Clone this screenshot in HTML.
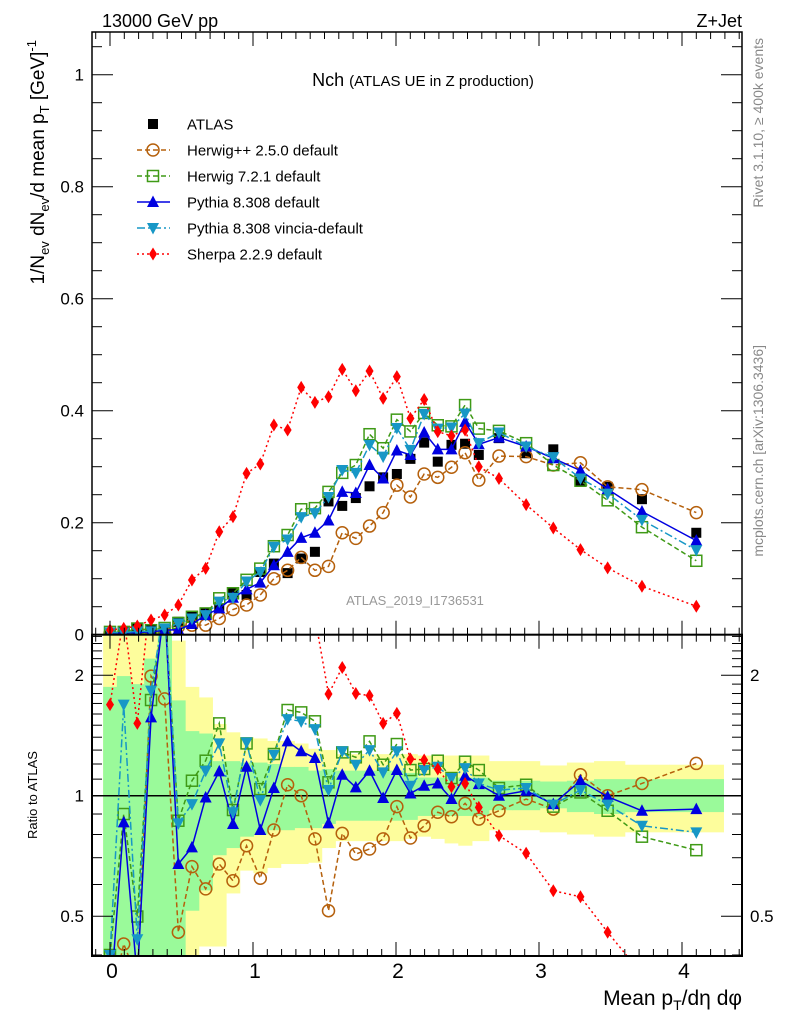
<!DOCTYPE html>
<html><head><meta charset="utf-8"><style>
html,body{margin:0;padding:0;background:#fff}
svg{display:block;font-family:"Liberation Sans",sans-serif}
</style></head><body>
<svg id="chart" width="786" height="1024" viewBox="0 0 786 1024" xmlns="http://www.w3.org/2000/svg">
<defs>
<clipPath id="clipMain"><rect x="92" y="32" width="650" height="603"/></clipPath>
<clipPath id="clipRatio"><rect x="92" y="635" width="650" height="321"/></clipPath>
</defs>
<g id="bands" clip-path="url(#clipRatio)"></g>
<g id="ratioSeries" clip-path="url(#clipRatio)"></g>
<g id="mainSeries" clip-path="url(#clipMain)"></g>
<g id="axes"></g>
<text x="102" y="27" font-size="18">13000 GeV pp</text>
<text x="742" y="27" font-size="18" text-anchor="end">Z+Jet</text>
<text x="423" y="86" text-anchor="middle" font-size="18">Nch <tspan font-size="15">(ATLAS UE in Z production)</tspan></text>
<text x="415" y="605" text-anchor="middle" font-size="13" fill="#999">ATLAS_2019_I1736531</text>
<text transform="translate(44,40) rotate(-90)" text-anchor="end" font-size="19">1/N<tspan font-size="13" dy="5">ev</tspan><tspan dy="-5"> dN</tspan><tspan font-size="13" dy="5">ev</tspan><tspan dy="-5">/d mean p</tspan><tspan font-size="13" dy="5">T</tspan><tspan dy="-5"> [GeV]</tspan><tspan font-size="13" dy="-8">-1</tspan></text>
<text transform="translate(37,795) rotate(-90)" text-anchor="middle" font-size="13">Ratio to ATLAS</text>
<text x="742" y="1005" text-anchor="end" font-size="21">Mean p<tspan font-size="14" dy="5">T</tspan><tspan dy="-5">/dη dφ</tspan></text>
<text transform="translate(763,38) rotate(-90)" text-anchor="end" font-size="14" fill="#888">Rivet 3.1.10, ≥ 400k events</text>
<text transform="translate(763,345) rotate(-90)" text-anchor="end" font-size="14" fill="#888">mcplots.cern.ch [arXiv:1306.3436]</text>
<g id="legend"></g>
</svg>
<script>
const xs = [0,0.096,0.191,0.287,0.382,0.478,0.573,0.669,0.764,0.860,0.955,1.051,1.146,1.242,1.337,1.433,1.528,1.624,1.719,1.815,1.910,2.006,2.101,2.197,2.292,2.388,2.483,2.579,2.72,2.91,3.10,3.29,3.48,3.72,4.10];
const atlas = [0.004,0.005,0.011,0.008,0.011,0.023,0.032,0.038,0.047,0.075,0.071,0.112,0.127,0.110,0.136,0.148,0.238,0.230,0.244,0.265,0.281,0.287,0.314,0.343,0.309,0.339,0.341,0.321,0.351,0.324,0.331,0.273,0.264,0.242,0.182];
const herwigpp = [0.002,0.003,0.004,0.003,0.003,0.014,0.017,0.017,0.029,0.045,0.053,0.071,0.100,0.115,0.138,0.115,0.122,0.182,0.172,0.194,0.218,0.267,0.246,0.287,0.281,0.299,0.325,0.276,0.319,0.318,0.303,0.307,0.264,0.259,0.218];
const herwig7 = [0.005,0.005,0.011,0.008,0.012,0.021,0.032,0.038,0.065,0.074,0.098,0.118,0.158,0.178,0.224,0.226,0.255,0.289,0.303,0.358,0.333,0.384,0.363,0.396,0.374,0.372,0.410,0.368,0.364,0.342,0.303,0.275,0.240,0.192,0.132];
const pythia = [0.003,0.003,0.004,0.005,0.008,0.009,0.019,0.035,0.047,0.066,0.081,0.093,0.124,0.148,0.173,0.182,0.204,0.255,0.253,0.303,0.279,0.329,0.321,0.361,0.331,0.331,0.380,0.340,0.352,0.336,0.315,0.293,0.260,0.220,0.168];
const vincia = [0.004,0.004,0.006,0.006,0.011,0.020,0.029,0.035,0.059,0.066,0.095,0.112,0.157,0.170,0.210,0.217,0.246,0.294,0.289,0.339,0.318,0.369,0.330,0.394,0.368,0.370,0.395,0.342,0.361,0.336,0.317,0.279,0.252,0.205,0.151];
const sherpa = [0.0084,0.0114,0.0155,0.0262,0.0351,0.0530,0.0977,0.1185,0.1839,0.2107,0.2881,0.3048,0.3745,0.3655,0.4417,0.4149,0.425,0.4739,0.4357,0.4709,0.4220,0.4608,0.3864,0.420,0.3626,0.355,0.3655,0.2999,0.279,0.2322,0.1906,0.1520,0.1193,0.0865,0.0508];
const rHerwigpp = [0.3,0.426,0.35,1.99,1.745,0.456,0.665,0.585,0.675,0.613,0.75,0.622,0.821,1.065,1.0,0.78,0.516,0.805,0.715,0.736,0.78,0.939,0.784,0.841,0.909,0.886,0.957,0.874,0.917,0.981,0.926,1.128,1.0,1.073,1.204];
const rHerwig7 = [0.4,0.90,0.499,1.734,3.0,0.866,1.09,1.223,1.516,0.921,1.351,1.039,1.271,1.637,1.615,1.534,1.08,1.283,1.247,1.367,1.195,1.346,1.159,1.166,1.223,1.107,1.216,1.159,1.045,1.065,0.939,1.019,0.917,0.79,0.731];
const rPythia = [0.3,0.858,0.35,1.569,3.0,0.675,0.743,0.99,1.15,0.85,1.181,0.821,1.045,1.367,1.291,1.242,0.853,1.128,1.049,1.154,0.987,1.159,1.013,1.059,1.073,0.981,1.122,1.069,1.0,1.029,0.953,1.09,0.994,0.917,0.926];
const rVincia = [0.4,1.688,0.438,1.83,3.0,0.853,0.953,1.154,1.351,0.909,1.359,0.975,1.266,1.554,1.534,1.467,1.033,1.291,1.195,1.30,1.144,1.291,1.059,1.159,1.181,1.107,1.172,1.073,1.033,1.045,0.95,1.033,0.95,0.841,0.81];
const rSherpa = [1.688,2.8,1.516,3.3,3.2,2.9,3.0,3.1,3.9,2.8,4.0,2.7,2.9,3.3,3.2,2.8,1.795,2.09,1.80,1.778,1.516,1.606,1.235,1.228,1.166,1.053,1.073,0.935,0.795,0.718,0.579,0.559,0.456,0.358,0.28];
const yellowHi = [3,3,3,3,3,2.44,1.87,1.76,1.51,1.44,1.40,1.39,1.37,1.37,1.35,1.31,1.30,1.27,1.27,1.27,1.27,1.27,1.27,1.26,1.26,1.26,1.26,1.26,1.22,1.22,1.19,1.21,1.22,1.195,1.195];
const yellowLo = [0.3,0.3,0.3,0.3,0.3,0.3,0.3,0.42,0.42,0.57,0.65,0.64,0.66,0.675,0.675,0.68,0.74,0.77,0.77,0.77,0.77,0.77,0.78,0.79,0.78,0.76,0.75,0.77,0.82,0.82,0.81,0.80,0.79,0.81,0.81];
const greenHi = [1.87,1.99,1.9,2.2,2.6,1.73,1.45,1.43,1.22,1.22,1.21,1.21,1.2,1.18,1.18,1.155,1.165,1.155,1.155,1.155,1.155,1.155,1.14,1.11,1.11,1.11,1.11,1.11,1.09,1.09,1.085,1.09,1.10,1.10,1.10];
const greenLo = [0.3,0.3,0.3,0.3,0.3,0.3,0.516,0.58,0.71,0.74,0.79,0.80,0.82,0.82,0.83,0.83,0.85,0.866,0.866,0.866,0.866,0.866,0.87,0.89,0.89,0.89,0.89,0.89,0.92,0.92,0.93,0.91,0.90,0.91,0.91];
const xTicks = ["0","1","2","3","4"];
const yTicks = ["0","0.2","0.4","0.6","0.8","1"];
const legendLabels = ["ATLAS","Herwig++ 2.5.0 default","Herwig 7.2.1 default","Pythia 8.308 default","Pythia 8.308 vincia-default","Sherpa 2.2.9 default"];

const NS = "http://www.w3.org/2000/svg";
function X(v){return 110 + 143*v;}
function Y(v){return 634.7 - 560*v;}
function R(r){return 795.7 - 120.5*Math.log2(r);}
function mk(tag, parent){const e=document.createElementNS(NS,tag);parent.appendChild(e);return e;}

const gb = document.getElementById('bands');
function edges(i){
  const l = i===0 ? xs[0]-(xs[1]-xs[0])/2 : (xs[i-1]+xs[i])/2;
  const r = i===xs.length-1 ? xs[i]+(xs[i]-xs[i-1])/2 : (xs[i]+xs[i+1])/2;
  return [l,r];
}
for(let i=0;i<xs.length;i++){
  const [l,r]=edges(i);
  const y = mk('rect',gb);
  
  
  y.setAttribute('x',X(l)); y.setAttribute('width',X(r)-X(l)+0.5);
  y.setAttribute('y',R(yellowHi[i])); y.setAttribute('height',R(yellowLo[i])-R(yellowHi[i]));
  y.setAttribute('fill','#fdfd9c');
}
for(let i=0;i<xs.length;i++){
  const [l,r]=edges(i);
  const g = mk('rect',gb);
  
  
  g.setAttribute('x',X(l)); g.setAttribute('width',X(r)-X(l)+0.5);
  g.setAttribute('y',R(greenHi[i])); g.setAttribute('height',R(greenLo[i])-R(greenHi[i]));
  g.setAttribute('fill','#9afa9a');
}
const unity = mk('line',gb);


unity.setAttribute('x1',92);unity.setAttribute('x2',742);unity.setAttribute('y1',R(1));unity.setAttribute('y2',R(1));
unity.setAttribute('stroke','#000');unity.setAttribute('stroke-width','1.5');

function marker(parent, type, cx, cy, color, name){
  let e;
  if(type==='sq'){e=mk('rect',parent);e.setAttribute('x',cx-5);e.setAttribute('y',cy-5);e.setAttribute('width',10);e.setAttribute('height',10);e.setAttribute('fill',color);}
  else if(type==='osq'){e=mk('rect',parent);e.setAttribute('x',cx-5.5);e.setAttribute('y',cy-5.5);e.setAttribute('width',11);e.setAttribute('height',11);e.setAttribute('fill','none');e.setAttribute('stroke',color);e.setAttribute('stroke-width','1.5');}
  else if(type==='oc'){e=mk('circle',parent);e.setAttribute('cx',cx);e.setAttribute('cy',cy);e.setAttribute('r',6);e.setAttribute('fill','none');e.setAttribute('stroke',color);e.setAttribute('stroke-width','1.5');}
  else if(type==='tu'){e=mk('polygon',parent);e.setAttribute('points',`${cx},${cy-6.5} ${cx+6},${cy+5} ${cx-6},${cy+5}`);e.setAttribute('fill',color);}
  else if(type==='td'){e=mk('polygon',parent);e.setAttribute('points',`${cx},${cy+6.5} ${cx+6},${cy-5} ${cx-6},${cy-5}`);e.setAttribute('fill',color);}
  else {e=mk('polygon',parent);e.setAttribute('points',`${cx},${cy-6.5} ${cx+4},${cy} ${cx},${cy+6.5} ${cx-4},${cy}`);e.setAttribute('fill',color);}
  
  
}

const series = [
  {vals:atlas, ratio:null, type:'sq', color:'#000', dash:null, name:'atlas'},
  {vals:herwigpp, ratio:rHerwigpp, type:'oc', color:'#b5600c', dash:'5,3', name:'herwigpp'},
  {vals:herwig7, ratio:rHerwig7, type:'osq', color:'#3f9a16', dash:'5,3', name:'herwig7'},
  {vals:pythia, ratio:rPythia, type:'tu', color:'#0000e0', dash:null, name:'pythia-default'},
  {vals:vincia, ratio:rVincia, type:'td', color:'#1797c6', dash:'8,3,2,3', name:'pythia-vincia'},
  {vals:sherpa, ratio:rSherpa, type:'di', color:'#ff0000', dash:'2,3', name:'sherpa'}
];
const gm = document.getElementById('mainSeries');
const gr = document.getElementById('ratioSeries');
series.forEach(s=>{
  if(s.type!=='sq'){
    const p = mk('polyline',gm);
    
    
    p.setAttribute('points',s.vals.map((v,i)=>X(xs[i])+','+Y(v)).join(' '));
    p.setAttribute('fill','none');p.setAttribute('stroke',s.color);p.setAttribute('stroke-width','1.5');
    if(s.dash) p.setAttribute('stroke-dasharray',s.dash);
    const q = mk('polyline',gr);
    
    
    q.setAttribute('points',s.ratio.map((v,i)=>X(xs[i])+','+R(v)).join(' '));
    q.setAttribute('fill','none');q.setAttribute('stroke',s.color);q.setAttribute('stroke-width','1.5');
    if(s.dash) q.setAttribute('stroke-dasharray',s.dash);
    s.ratio.forEach((v,i)=>marker(gr,s.type,X(xs[i]),R(v),s.color,s.name+'-ratio-point'));
  }
  s.vals.forEach((v,i)=>marker(gm,s.type,X(xs[i]),Y(v),s.color,s.name+'-point'));
});

const gl = document.getElementById('legend');
series.forEach((s,k)=>{
  const cy = 124 + k*26;
  if(s.type!=='sq'){
    const l = mk('line',gl);
    
    
    l.setAttribute('x1',137);l.setAttribute('x2',170);l.setAttribute('y1',cy);l.setAttribute('y2',cy);
    l.setAttribute('stroke',s.color);l.setAttribute('stroke-width','1.5');
    if(s.dash) l.setAttribute('stroke-dasharray',s.dash);
  }
  marker(gl,s.type,153,cy,s.color,'legend-marker');
  const t = mk('text',gl);
  
  
  t.setAttribute('x',187);t.setAttribute('y',cy+5.5);t.setAttribute('font-size','15');
  t.textContent = legendLabels[k];
});

const ga = document.getElementById('axes');
function line(x1,y1,x2,y2,w,name){const l=mk('line',ga);l.setAttribute('x1',x1);l.setAttribute('y1',y1);l.setAttribute('x2',x2);l.setAttribute('y2',y2);l.setAttribute('stroke','#000');l.setAttribute('stroke-width',w);}
function label(x,y,txt,anchor,name,fs){const t=mk('text',ga);t.setAttribute('x',x);t.setAttribute('y',y);t.setAttribute('text-anchor',anchor);t.setAttribute('font-size',fs||'17');t.textContent=txt;}
const frameMain = mk('rect',ga);


frameMain.setAttribute('x',92);frameMain.setAttribute('y',32);frameMain.setAttribute('width',650);frameMain.setAttribute('height',602.7);
frameMain.setAttribute('fill','none');frameMain.setAttribute('stroke','#000');frameMain.setAttribute('stroke-width','1.5');
const frameRatio = mk('rect',ga);


frameRatio.setAttribute('x',92);frameRatio.setAttribute('y',634.7);frameRatio.setAttribute('width',650);frameRatio.setAttribute('height',321.3);
frameRatio.setAttribute('fill','none');frameRatio.setAttribute('stroke','#000');frameRatio.setAttribute('stroke-width','2');
for(let k=-1;k<=44;k++){
  const v=k/10, x=X(v); if(x<93||x>741) continue;
  const major = k%10===0, len = major?14:7;
  line(x,634.7,x,634.7-len,1,'x-tick');
  line(x,32,x,32+len,1,'x-tick');
  line(x,956,x,956-len,1,'x-tick');
  line(x,634.7,x,634.7+len,1,'x-tick');
}
xTicks.forEach((t,k)=>label(X(k)+2,978,t,'middle','x-tick-label','21'));
for(let k=0;k<=21;k++){
  const v=k*0.05, y=Y(v); if(y<33) continue;
  const major = k%4===0, len = major?21:10;
  line(92,y,92+len,y,1,'y-tick');
  line(742,y,742-len,y,1,'y-tick');
}
yTicks.forEach((t,k)=>label(84,Y(k*0.2)+6,t,'end','y-tick-label'));
for(let k=4;k<=25;k++){
  const r=k/10, y=R(r); if(y<636||y>955) continue;
  const major = (k===5||k===10||k===20), len = major?21:10;
  line(92,y,92+len,y,1,'ratio-y-tick');
  line(742,y,742-len,y,1,'ratio-y-tick');
}
label(84,R(2)+6,'2','end','ratio-tick-label');
label(84,R(1)+6,'1','end','ratio-tick-label');
label(84,R(0.5)+6,'0.5','end','ratio-tick-label');
label(750,R(2)+6,'2','start','ratio-tick-label');
label(750,R(0.5)+6,'0.5','start','ratio-tick-label');
</script>
</body></html>
